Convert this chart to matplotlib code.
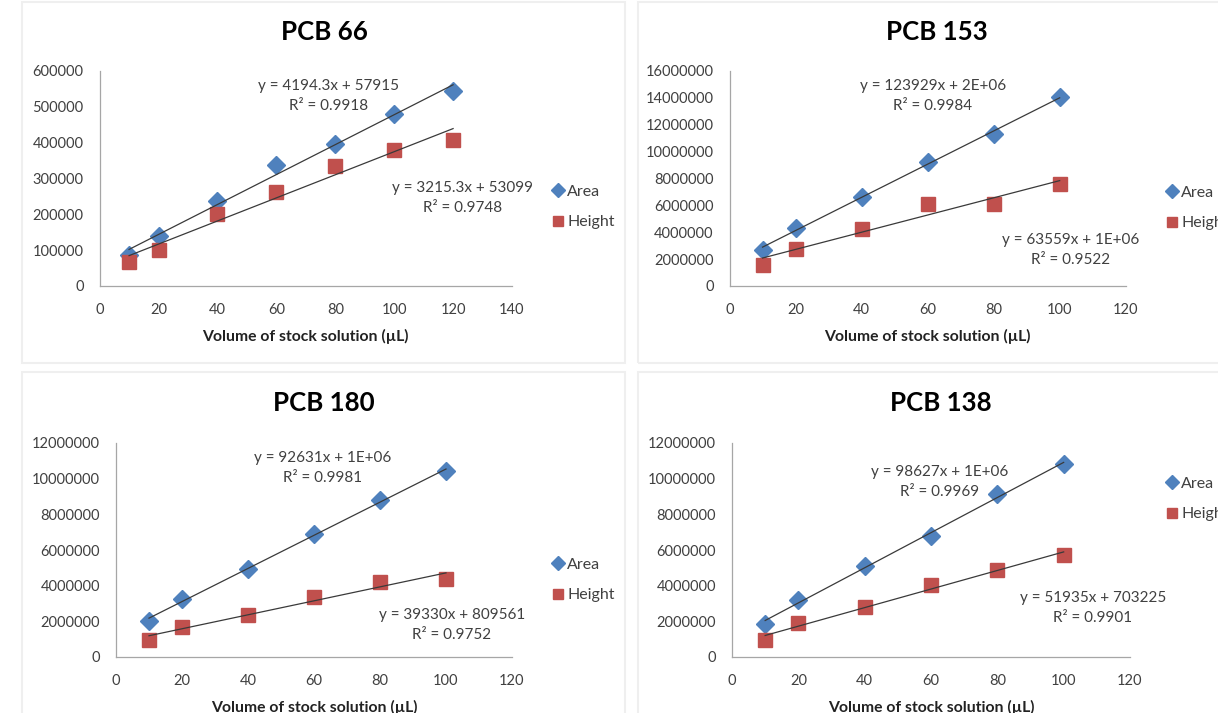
#!/usr/bin/env python3
"""
Calibration curves for four PCB congeners (Area & Height vs volume)
"""

import numpy as np
import matplotlib.pyplot as plt
from matplotlib.patches import Rectangle

plt.rcParams["font.family"] = ["Lato", "DejaVu Sans"]

W, H = 1218, 713

# Volumes of stock solution (uL)
vol_66 = [10, 20, 40, 60, 80, 100, 120]
vol = [10, 20, 40, 60, 80, 100]

# PCB 66
area_66 = [85600, 138600, 236000, 337000, 395000, 481000, 545000]
height_66 = [67000, 99500, 202000, 262000, 335000, 380000, 408000]
eq_66 = ["y = 4194.3x + 57915\nR² = 0.9918", "y = 3215.3x + 53099\nR² = 0.9748"]

# PCB 153
area_153 = [2700000, 4290000, 6620000, 9230000, 11340000, 14040000]
height_153 = [1590000, 2780000, 4240000, 6130000, 6130000, 7620000]
eq_153 = ["y = 123929x + 2E+06\nR² = 0.9984", "y = 63559x + 1E+06\nR² = 0.9522"]

# PCB 180
area_180 = [2000000, 3270000, 4920000, 6920000, 8780000, 10410000]
height_180 = [970000, 1680000, 2340000, 3360000, 4200000, 4390000]
eq_180 = ["y = 92631x + 1E+06\nR² = 0.9981", "y = 39330x + 809561\nR² = 0.9752"]

# PCB 138
area_138 = [1870000, 3210000, 5080000, 6790000, 9160000, 10800000]
height_138 = [930000, 1910000, 2800000, 4020000, 4860000, 5740000]
eq_138 = ["y = 98627x + 1E+06\nR² = 0.9969", "y = 51935x + 703225\nR² = 0.9901"]

BLUE = "#4F81BD"
RED = "#C0504D"
TEXT = "#404040"


def fx(px: float) -> float:
    return px / W


def fy(py: float) -> float:
    return 1 - py / H


def panel(fig, box, frame, title, title_xy, x, area, height, xmax, ymax, ystep,
          eqs, eq_xy, legend_xy):
    """
    Draw one Excel-style calibration chart
    """
    # faint chart frame
    l, t, r, b = frame
    fig.patches.append(Rectangle((fx(l), fy(b)), fx(r - l), (b - t) / H,
                                 transform=fig.transFigure, fill=False,
                                 edgecolor="#efefef", lw=1.5))

    left, top, right, bottom = box
    ax = fig.add_axes([fx(left), fy(bottom), fx(right - left), (bottom - top) / H])
    ax.set_facecolor("none")

    ax.plot(x, area, linestyle="none", marker="D", markersize=9, color=BLUE,
            label="Area", zorder=3)
    ax.plot(x, height, linestyle="none", marker="s", markersize=10.5, color=RED,
            label="Height", zorder=3)

    # linear trendlines
    xs = np.array([min(x), max(x)])
    for ys in (area, height):
        k, c = np.polyfit(x, ys, 1)
        ax.plot(xs, k * xs + c, color="#3a3a3a", lw=0.9, zorder=4)

    ax.set_xlim(0, xmax)
    ax.set_ylim(0, ymax)
    ax.set_xticks(np.arange(0, xmax + 1, 20))
    ax.set_yticks(np.arange(0, ymax + 1, ystep))
    ax.set_yticklabels([f"{int(v)}" for v in np.arange(0, ymax + 1, ystep)])
    ax.tick_params(length=0, labelsize=10.5, labelcolor=TEXT)
    ax.tick_params(axis="y", pad=11.5)
    ax.tick_params(axis="x", pad=12.5)
    for s in ("top", "right"):
        ax.spines[s].set_visible(False)
    for s in ("left", "bottom"):
        ax.spines[s].set_color("#a6a6a6")
        ax.spines[s].set_linewidth(0.9)

    ax.set_xlabel("Volume of stock solution (µL)", fontsize=11.3,
                  fontweight="bold", color="#222222", labelpad=8)

    fig.text(fx(title_xy[0]), fy(title_xy[1]), title, ha="center", va="center",
             fontsize=18.6, fontweight="bold", color="black")

    for txt, (ex, ey) in zip(eqs, eq_xy):
        fig.text(fx(ex), fy(ey), txt, ha="center", va="center",
                 multialignment="center", fontsize=11, color=TEXT,
                 linespacing=1.5)

    ax.legend(loc="center left", bbox_to_anchor=(fx(legend_xy[0]), fy(legend_xy[1])),
              bbox_transform=fig.transFigure, frameon=False, fontsize=11.5,
              handlelength=0.6, handletextpad=0.3, labelspacing=1.0,
              markerscale=0.75, borderpad=0, labelcolor=TEXT)
    return ax


fig = plt.figure(figsize=(W / 100, H / 100), dpi=100)
fig.patch.set_facecolor("white")

panel(fig, (99.6, 71, 512, 286), (22, 2, 625, 363), "PCB 66", (324, 32),
      vol_66, area_66, height_66, 140, 600000, 100000,
      eq_66, [(329, 96), (463, 198)], (545, 207))
panel(fig, (729.5, 71, 1125.7, 286), (638, 2, 1230, 363), "PCB 153", (937, 32),
      vol, area_153, height_153, 120, 16000000, 2000000,
      eq_153, [(933, 96), (1071, 250)], (1159, 208))
panel(fig, (116, 443, 512, 657), (22, 372, 625, 720), "PCB 180", (324, 403),
      vol, area_180, height_180, 120, 12000000, 2000000,
      eq_180, [(323, 468), (452, 625)], (545, 580))
panel(fig, (732, 443, 1130, 657), (638, 372, 1230, 720), "PCB 138", (941, 403),
      vol, area_138, height_138, 120, 12000000, 2000000,
      eq_138, [(940, 482), (1093, 608)], (1159, 499))

fig.savefig("out.png", dpi=100)
